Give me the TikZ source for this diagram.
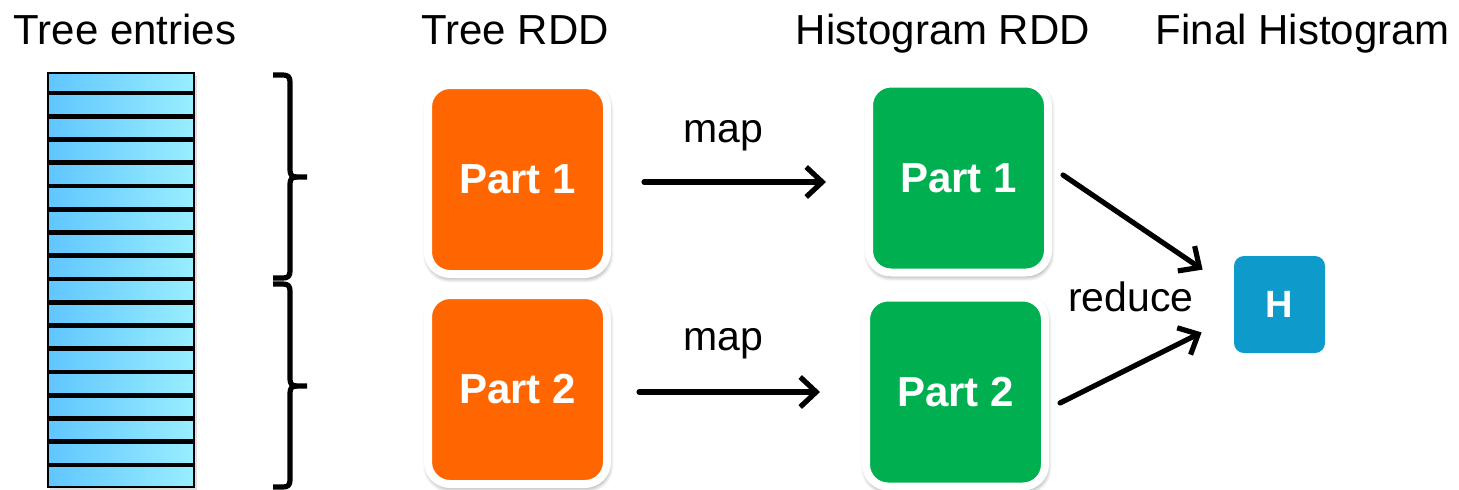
\documentclass[tikz,border=0pt]{standalone}
\usepackage{fontspec}
\setmainfont{Liberation Sans}
\usetikzlibrary{arrows.meta,shadows,shadows.blur}
\definecolor{partorange}{RGB}{255,102,0}
\definecolor{partgreen}{RGB}{0,176,80}
\definecolor{hblue}{RGB}{14,155,203}
\definecolor{entryleft}{RGB}{96,198,255}
\definecolor{entryright}{RGB}{153,238,255}
\tikzset{
  partbox/.style={rounded corners=11pt, draw=white, line width=4pt,
    minimum width=89.5pt, minimum height=94.5pt, inner sep=0pt,
    text=white, font=\fontsize{21}{25}\selectfont\bfseries,
    blur shadow={shadow xshift=0.4pt, shadow yshift=-1.4pt, shadow scale=1.01, shadow blur radius=2.5pt,
      shadow blur steps=6, shadow opacity=50}},
  hbox/.style={rounded corners=5pt, fill=hblue, minimum width=45.5pt, minimum height=48.5pt,
    inner sep=0pt, text=white, font=\fontsize{19}{22}\selectfont\bfseries},
  title/.style={anchor=base, font=\fontsize{21}{25}\selectfont},
  lbl/.style={anchor=base, font=\fontsize{20.5}{24}\selectfont},
  arr/.style={line width=2.6pt, -{Straight Barb[length=8pt,width=15pt,line width=2.6pt]}, line cap=round},
  entryline/.style={line width=2.4pt},
  bracepath/.style={line width=2.6pt, line cap=butt, line join=round},
}
\begin{document}
\begin{tikzpicture}[x=0.5pt,y=-0.5pt]
\useasboundingbox (0,0) rectangle (1459,489);
% titles
\node[title] (t1) at (125,44) {Tree entries};
\node[title] (t2) at (515,44) {Tree RDD};
\node[title] (t3) at (943,44) {Histogram RDD};
\node[title] (t4) at (1303,44) {Final Histogram};
% tree entries
\fill[black,opacity=0.12] (50,76) rectangle (197,490);
\path[draw=black, line width=1pt, left color=entryleft, right color=entryright] (48,73) rectangle (194,487);
\foreach \i in {0,...,16}{
  \draw[entryline] (48,{93+\i*23.25}) -- (194,{93+\i*23.25});
}
% braces
\draw[bracepath] (273,75) -- (283,75) .. controls (288,75) and (290,77) .. (290,82)
  -- (290,170) .. controls (290,175) and (292,177) .. (297,177) -- (307,177);
\draw[bracepath] (297,177) .. controls (292,177) and (290,179) .. (290,184)
  -- (290,271) .. controls (290,276) and (288,278) .. (283,278) -- (273,278);
\draw[bracepath] (273,284) -- (283,284) .. controls (288,284) and (290,286) .. (290,291)
  -- (290,379) .. controls (290,384) and (292,386) .. (297,386) -- (307,386);
\draw[bracepath] (297,386) .. controls (292,386) and (290,388) .. (290,393)
  -- (290,480) .. controls (290,485) and (288,487) .. (283,487) -- (273,487);
% part boxes
\node[partbox, fill=partorange] (o1) at (517.5,179.5) {Part 1};
\node[partbox, fill=partorange] (o2) at (517.5,389.5) {Part 2};
\node[partbox, fill=partgreen] (g1) at (958.5,178) {Part 1};
\node[partbox, fill=partgreen] (g2) at (955.5,392) {Part 2};
\node[hbox] (h) at (1279.5,304.5) {H};
% labels
\node[lbl] (m1) at (723,142) {map};
\node[lbl] (m2) at (723,350) {map};
\node[lbl] (r) at (1131,311) {reduce};
% arrows
\draw[arr] ([shift={(33,2.5)}]o1.east) -- ([shift={(-39,4)}]g1.west);
\draw[arr] ([shift={(28,2.5)}]o2.east) -- ([shift={(-42,0)}]g2.west);
\draw[arr] ([shift={(11,-3)}]g1.east) -- ([shift={(-31,14)}]h.north west);
\draw[arr] ([shift={(11,11)}]g2.east) -- ([shift={(-32,-21)}]h.south west);
\end{tikzpicture}
\end{document}
